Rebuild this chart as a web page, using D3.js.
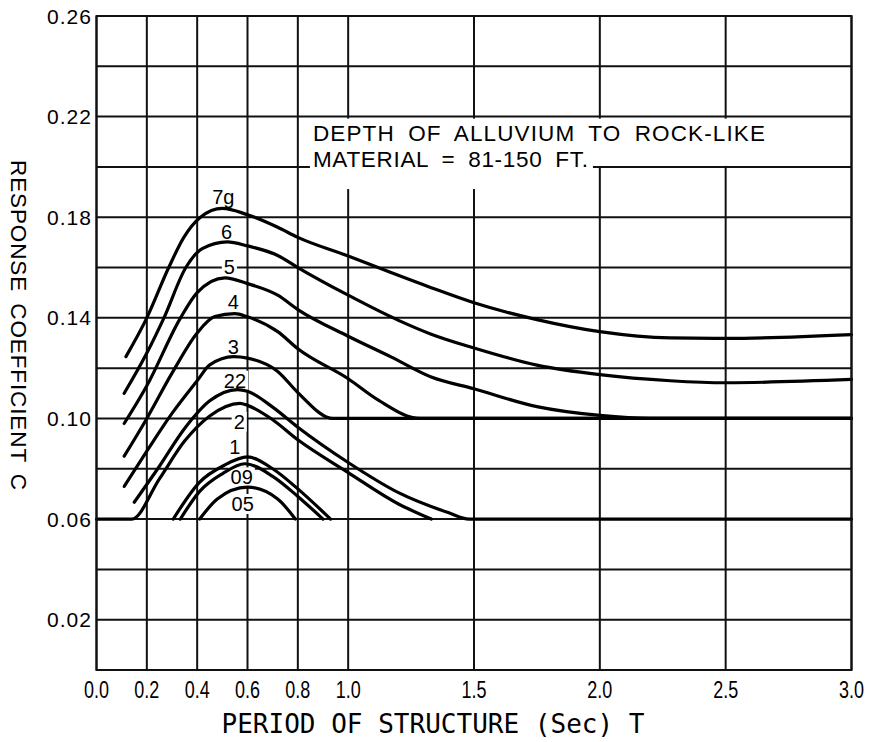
<!DOCTYPE html>
<html lang="en">
<head>
<meta charset="utf-8">
<title>Response Coefficient C</title>
<script src="https://d3js.org/d3.v7.min.js" charset="utf-8"></script>
<style>
  body { margin: 0; background: #fff; }
  svg { display: block; }
</style>
</head>
<body>
<script>

// axis ticks / grid
var xTicks = [0.0, 0.2, 0.4, 0.6, 0.8, 1.0, 1.5, 2.0, 2.5, 3.0]
var yGrid = [0, 0.02, 0.04, 0.06, 0.08, 0.10, 0.12, 0.14, 0.16, 0.18, 0.20, 0.22, 0.24, 0.26]
var yLabels = [0.02, 0.06, 0.10, 0.14, 0.18, 0.22, 0.26]

// curves, [period T, coefficient C]
var c7g = [[0.117,0.1246],[0.2,0.140],[0.287,0.160],[0.347,0.172],[0.413,0.180],[0.5,0.1835],[0.6,0.181],[0.72,0.176],[0.8,0.172],[1.0,0.1646],[1.17,0.158],[1.33,0.152],[1.5,0.146],[1.75,0.1393],[2.0,0.1345],[2.28,0.132],[2.5,0.1318],[3.0,0.1333]]
var c6 = [[0.11,0.110],[0.2,0.126],[0.268,0.140],[0.355,0.160],[0.42,0.1675],[0.52,0.1702],[0.6,0.1686],[0.72,0.1648],[0.8,0.160],[1.0,0.149],[1.2,0.139],[1.33,0.1335],[1.5,0.128],[1.75,0.1212],[2.0,0.1174],[2.28,0.115],[2.5,0.1142],[3.0,0.1155]]
var c5 = [[0.11,0.098],[0.2,0.113],[0.334,0.140],[0.4,0.150],[0.51,0.1559],[0.6,0.1536],[0.72,0.149],[0.8,0.1433],[1.0,0.1327],[1.17,0.1245],[1.33,0.1165],[1.5,0.1118],[1.75,0.1047],[2.0,0.1012],[2.2,0.100],[3.0,0.100]]
var c4 = [[0.11,0.085],[0.2,0.100],[0.3,0.118],[0.4,0.134],[0.47,0.1405],[0.55,0.1417],[0.6,0.1404],[0.72,0.1345],[0.8,0.1277],[1.0,0.1158],[1.12,0.1073],[1.285,0.100],[3.0,0.100]]
var c3 = [[0.11,0.073],[0.2,0.087],[0.3,0.102],[0.4,0.115],[0.45,0.1213],[0.545,0.1246],[0.6,0.124],[0.72,0.1187],[0.8,0.1103],[0.94,0.100],[3.0,0.100]]
var c22 = [[0.15,0.0667],[0.25,0.081],[0.35,0.096],[0.45,0.107],[0.56,0.1115],[0.6,0.1108],[0.7,0.1045],[0.8,0.0965],[1.0,0.0825],[1.2,0.0705],[1.4,0.0625],[1.48,0.060],[3.0,0.060]]
var c2 = [[0.0,0.060],[0.14,0.060],[0.25,0.076],[0.35,0.091],[0.45,0.101],[0.57,0.106],[0.6,0.1052],[0.7,0.0995],[0.8,0.0915],[1.0,0.0785],[1.2,0.066],[1.33,0.060]]
var c1 = [[0.305,0.060],[0.41,0.0747],[0.506,0.0813],[0.6,0.0847],[0.7,0.080],[0.8,0.072],[0.93,0.060]]
var c09 = [[0.333,0.060],[0.41,0.071],[0.5,0.078],[0.59,0.082],[0.7,0.077],[0.8,0.069],[0.9,0.060]]
var c05 = [[0.41,0.060],[0.48,0.068],[0.6,0.0727],[0.72,0.068],[0.79,0.060]]

var curveNames = ["7g", "6", "5", "4", "3", "22", "2", "1", "09", "05"]
var curveData = [c7g, c6, c5, c4, c3, c22, c2, c1, c09, c05]
// where each name is written
var labelAt = [[0.504,0.1882],[0.517,0.1742],[0.528,0.1601],[0.544,0.1464],[0.544,0.1285],[0.550,0.1150],[0.567,0.0987],[0.550,0.0885],[0.577,0.0766],[0.581,0.0660]]

var noteLines = ["DEPTH OF ALLUVIUM TO ROCK-LIKE", "MATERIAL = 81-150 FT."]

var W = 872, H = 742
var x = d3.scaleLinear().domain([0, 3]).range([96.5, 851.5])
var y = d3.scaleLinear().domain([0, 0.26]).range([670, 16])
var sans = "Liberation Sans, Arial, Helvetica, sans-serif"

var svg = d3.select("body").append("svg").attr("width", W).attr("height", H)

// grid
svg.append("g").selectAll("line").data(yGrid).enter().append("line")
    .attr("x1", x(0)).attr("x2", x(3))
    .attr("y1", function(d){ return y(d) }).attr("y2", function(d){ return y(d) })
    .attr("stroke", "#111").attr("stroke-width", 2)
svg.append("g").selectAll("line").data(xTicks).enter().append("line")
    .attr("x1", function(d){ return x(d) }).attr("x2", function(d){ return x(d) })
    .attr("y1", y(0)).attr("y2", y(0.26))
    .attr("stroke", "#111").attr("stroke-width", 2)

// note, with white ground behind it
var note = svg.append("g")
var t1 = note.append("text").attr("x", x(0.86)).attr("y", y(0.2103))
    .attr("font-family", sans).attr("font-size", 22.5).attr("word-spacing", 6)
    .attr("textLength", 452).attr("lengthAdjust", "spacing").text(noteLines[0])
var t2 = note.append("text").attr("x", x(0.86)).attr("y", y(0.2001))
    .attr("font-family", sans).attr("font-size", 22.5).attr("word-spacing", 6)
    .attr("textLength", 275).attr("lengthAdjust", "spacing").text(noteLines[1])
var b1 = t1.node().getBBox(), b2 = t2.node().getBBox()
note.insert("rect", "text").attr("x", b1.x - 4).attr("y", y(0.22) + 2)
    .attr("width", b1.width + 8).attr("height", y(0.20) - y(0.22) - 3).attr("fill", "#fff")
note.insert("rect", "text").attr("x", b2.x - 3).attr("y", b2.y)
    .attr("width", b2.width + 8).attr("height", y(0.19) - b2.y - 3).attr("fill", "#fff")

// curve names: white ground goes under the curves, text on top
var labGround = svg.append("g")
var curveLayer = svg.append("g")
var labText = svg.append("g").selectAll("text").data(curveNames).enter().append("text")
    .attr("x", function(d, i){ return x(labelAt[i][0]) })
    .attr("y", function(d, i){ return y(labelAt[i][1]) })
    .attr("text-anchor", "middle").attr("dominant-baseline", "central")
    .attr("font-family", sans).attr("font-size", 20)
    .text(function(d){ return d })
labText.each(function() {
    var b = this.getBBox()
    labGround.append("rect").attr("x", b.x - 2).attr("y", b.y + 1)
        .attr("width", b.width + 4).attr("height", b.height - 2).attr("fill", "#fff")
})

// curves
var line = d3.line().x(function(d){ return x(d[0]) }).y(function(d){ return y(d[1]) })
    .curve(d3.curveMonotoneX)
curveLayer.selectAll("path").data(curveData).enter().append("path")
    .attr("d", line).attr("fill", "none").attr("stroke", "#000")
    .attr("stroke-width", 3.2).attr("stroke-linecap", "round")

// frame
svg.append("rect").attr("x", x(0)).attr("y", y(0.26))
    .attr("width", x(3) - x(0)).attr("height", y(0) - y(0.26))
    .attr("fill", "none").attr("stroke", "#111").attr("stroke-width", 2)

// tick labels
svg.append("g").selectAll("text").data(yLabels).enter().append("text")
    .attr("x", 91).attr("y", function(d){ return y(d) })
    .attr("text-anchor", "end").attr("dominant-baseline", "central")
    .attr("font-family", sans).attr("font-size", 21)
    .attr("textLength", 44).attr("lengthAdjust", "spacing")
    .text(function(d){ return d.toFixed(2) })

svg.append("g").selectAll("text").data(xTicks).enter().append("text")
    .attr("x", function(d){ return x(d) }).attr("y", 698)
    .attr("text-anchor", "middle")
    .attr("font-family", sans).attr("font-size", 23)
    .attr("textLength", 25).attr("lengthAdjust", "spacingAndGlyphs")
    .text(function(d){ return d.toFixed(1) })

// axis titles
svg.append("text").attr("x", 433).attr("y", 733).attr("text-anchor", "middle")
    .attr("font-family", "DejaVu Sans Mono, monospace").attr("font-size", 27)
    .attr("textLength", 423).attr("lengthAdjust", "spacingAndGlyphs")
    .text("PERIOD OF STRUCTURE (Sec) T")

svg.append("text").attr("transform", "translate(11,325) rotate(90)")
    .attr("text-anchor", "middle")
    .attr("font-family", sans).attr("font-size", 22.5)
    .attr("word-spacing", 4)
    .attr("textLength", 330).attr("lengthAdjust", "spacing")
    .text("RESPONSE COEFFICIENT C")

</script>
</body>
</html>
